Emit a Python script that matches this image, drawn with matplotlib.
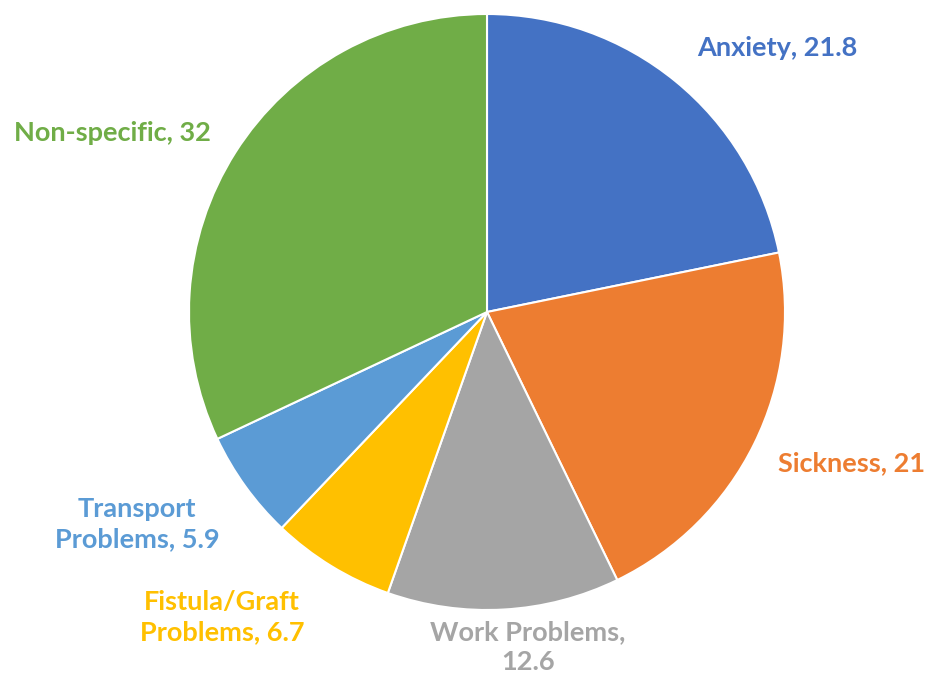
import matplotlib.pyplot as plt

categories = ["Anxiety", "Sickness", "Work Problems", "Fistula/Graft Problems",
              "Transport Problems", "Non-specific"]
values = [21.8, 21, 12.6, 6.7, 5.9, 32]
label_texts = ["Anxiety, 21.8", "Sickness, 21", "Work Problems,\n12.6",
               "Fistula/Graft\nProblems, 6.7", "Transport\nProblems, 5.9",
               "Non-specific, 32"]
colors = ["#4472C4", "#ED7D31", "#A5A5A5", "#FFC000", "#5B9BD5", "#70AD47"]
label_pos = [(0.973, 0.886), (1.225, -0.507), (0.138, -1.124),
             (-0.889, -1.023), (-1.174, -0.711), (-1.258, 0.60)]

W, H = 935, 682
cx, cy, r = 487, 312, 298
fig = plt.figure(figsize=(W / 100, H / 100), dpi=100)
ax = fig.add_axes([(cx - r) / W, (H - cy - r) / H, 2 * r / W, 2 * r / H])

ax.pie(values, colors=colors, startangle=90, counterclock=False, radius=1,
       wedgeprops=dict(edgecolor="white", linewidth=1.5))

for txt, (x, y), c in zip(label_texts, label_pos, colors):
    ax.text(x, y, txt, color=c, fontsize=19.5, fontweight="bold", family="Lato",
            ha="center", va="center", linespacing=1.32)

ax.set_xlim(-1, 1)
ax.set_ylim(-1, 1)
ax.set_aspect("equal")
ax.axis("off")
fig.savefig("out.png", dpi=100)
